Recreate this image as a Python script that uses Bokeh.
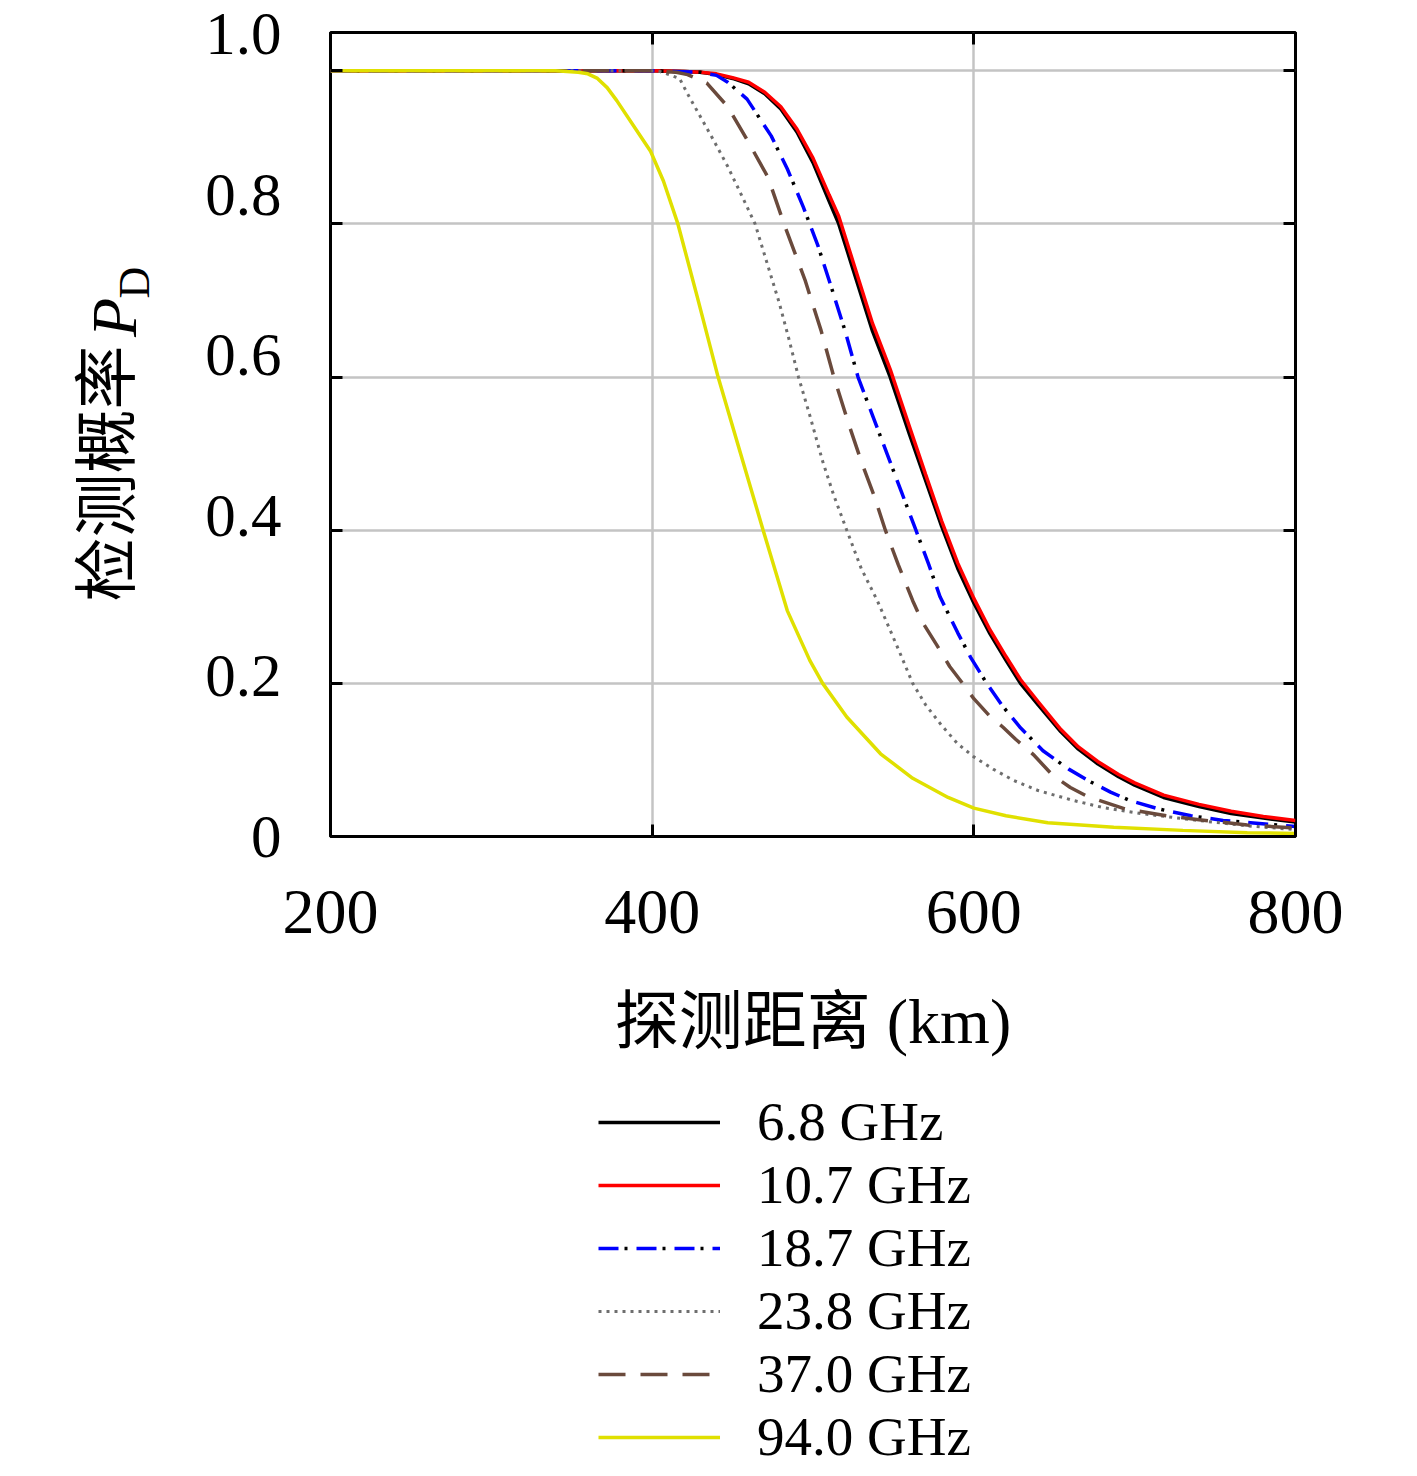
from bokeh.plotting import figure
from bokeh.layouts import row, column
from bokeh.models import (Range1d, LinearAxis, SingleIntervalTicker, Label, Legend,
                          LegendItem, CustomJSTickFormatter)
from bokeh.embed import file_html
from bokeh.resources import INLINE
import math

# ---------------- data ----------------
x_68 = [200, 300, 400, 420, 430, 440, 450, 460, 470, 480, 490, 500, 510, 516, 525, 537,
        548, 560, 570, 580, 590, 600, 610, 620, 629, 640, 654, 665, 677, 690, 700, 718,
        740, 760, 780, 800]
y_68 = [1.0, 1.0, 1.0, 0.999, 0.998, 0.995, 0.99, 0.983, 0.97, 0.95, 0.92, 0.88, 0.83,
        0.80, 0.74, 0.66, 0.60, 0.525, 0.465, 0.405, 0.35, 0.305, 0.265, 0.23, 0.20,
        0.172, 0.137, 0.114, 0.095, 0.078, 0.067, 0.051, 0.039, 0.030, 0.024, 0.019]

x_107 = x_68
y_107 = [1.0, 1.0, 1.0, 0.999, 0.998, 0.996, 0.991, 0.985, 0.972, 0.953, 0.924, 0.886,
         0.838, 0.81, 0.75, 0.67, 0.61, 0.535, 0.473, 0.412, 0.357, 0.311, 0.27, 0.235,
         0.205, 0.176, 0.14, 0.117, 0.098, 0.081, 0.07, 0.054, 0.042, 0.033, 0.026, 0.021]

x_187 = [200, 300, 400, 430, 440, 447, 459, 474, 484, 494, 503, 511, 520, 528, 537, 546,
         555, 564, 572, 579, 590, 598, 608, 618, 629, 643, 659, 672, 685, 697, 715, 735,
         755, 772, 800]
y_187 = [1.0, 1.0, 1.0, 0.998, 0.994, 0.985, 0.963, 0.915, 0.872, 0.822, 0.772, 0.72,
         0.66, 0.60, 0.55, 0.50, 0.45, 0.40, 0.355, 0.313, 0.266, 0.234, 0.20, 0.17,
         0.142, 0.112, 0.088, 0.072, 0.058, 0.047, 0.036, 0.027, 0.021, 0.018, 0.013]

x_238 = [200, 300, 400, 405, 417, 422, 430, 438, 447, 455, 464, 472, 479, 485, 491, 498,
         506, 513, 521, 530, 540, 546, 554, 562, 570, 580, 590, 600, 612, 625, 640, 662,
         680, 704, 739, 770, 800]
y_238 = [1.0, 1.0, 1.0, 0.999, 0.99, 0.97, 0.94, 0.91, 0.875, 0.84, 0.80, 0.745, 0.697,
         0.65, 0.60, 0.55, 0.49, 0.445, 0.40, 0.35, 0.308, 0.279, 0.24, 0.20, 0.172, 0.145,
         0.121, 0.104, 0.088, 0.073, 0.06, 0.047, 0.038, 0.03, 0.021, 0.014, 0.009]

x_370 = [200, 300, 400, 415, 422, 434, 447, 459, 472, 482, 495, 505, 513, 522, 530, 538,
         545, 553, 562, 568, 577, 585, 593, 600, 610, 618, 626, 637, 649, 660, 671, 694,
         720, 740, 770, 800]
y_370 = [1.0, 1.0, 1.0, 0.998, 0.995, 0.984, 0.953, 0.91, 0.861, 0.80, 0.727, 0.661, 0.60,
         0.54, 0.49, 0.445, 0.40, 0.355, 0.308, 0.28, 0.25, 0.222, 0.20, 0.18, 0.157, 0.143,
         0.127, 0.107, 0.08, 0.064, 0.052, 0.036, 0.027, 0.022, 0.015, 0.011]

x_940 = [200, 300, 340, 354, 360, 366, 372, 378, 391, 399, 407, 416, 428, 441, 455, 469,
         484, 498, 506, 521, 542, 562, 584, 600, 620, 646, 687, 730, 770, 800]
y_940 = [1.0, 1.0, 1.0, 0.998, 0.996, 0.99, 0.978, 0.961, 0.92, 0.895, 0.856, 0.80, 0.705,
         0.60, 0.50, 0.40, 0.295, 0.23, 0.20, 0.156, 0.108, 0.076, 0.051, 0.037, 0.027,
         0.018, 0.012, 0.008, 0.005, 0.004]

labels = ["6.8 GHz", "10.7 GHz", "18.7 GHz", "23.8 GHz", "37.0 GHz", "94.0 GHz"]

# ---------------- styles ----------------
SERIF = "Liberation Serif"
CJK = "Noto Sans CJK SC"
FS = "64px"

styles = [
    [dict(line_color="black", line_width=3.5)],
    [dict(line_color="#ff0000", line_width=3.5)],
    [dict(line_color="#0000ff", line_width=3.5, line_dash="20 18"),
     dict(line_color="black", line_width=3.5, line_dash="3 35", line_dash_offset=-26)],
    [dict(line_color="#6e6e6e", line_width=3, line_dash="3 5")],
    [dict(line_color="#6a4a3c", line_width=3.5, line_dash="27 15")],
    [dict(line_color="#e0e000", line_width=3.5)],
]
series = [(x_68, y_68), (x_107, y_107), (x_187, y_187), (x_238, y_238),
          (x_370, y_370), (x_940, y_940)]

TOTAL_W = 1409
TOTAL_H = 1468
LEFT_W = 185
MAIN_H = 1090
FRAME_TOP = 32
FRAME_BOTTOM = 836

# ---------------- main figure ----------------
p = figure(width=TOTAL_W - LEFT_W, height=MAIN_H,
           x_range=Range1d(200, 800), y_range=Range1d(0, 1.05),
           output_backend="svg", toolbar_location=None,
           min_border_left=330 - LEFT_W, min_border_right=114, min_border_top=FRAME_TOP,
           min_border_bottom=MAIN_H - FRAME_BOTTOM)
p.extra_y_ranges = {"lab": Range1d(0, 1.002)}
p.outline_line_color = "black"
p.outline_line_width = 3
p.outline_line_alpha = 1.0

blank = CustomJSTickFormatter(code="return '';")

def tick_style(ax):
    ax.major_tick_in = 12
    ax.major_tick_out = 0
    ax.major_tick_line_width = 3
    ax.major_tick_line_color = "black"
    ax.minor_tick_line_color = None
    ax.axis_line_color = None

xa = p.xaxis[0]
xa.ticker = SingleIntervalTicker(interval=200, num_minor_ticks=0)
tick_style(xa)
xa.major_label_text_font = SERIF
xa.major_label_text_font_size = FS
xa.major_label_text_color = "black"
xa.major_label_standoff = 54
xa.axis_label = "探测距离 (km)"
xa.axis_label_text_font = SERIF + ", " + CJK
xa.axis_label_text_font_size = FS
xa.axis_label_text_font_style = "normal"
xa.axis_label_text_color = "black"
xa.axis_label_standoff = 50

ta = LinearAxis(ticker=SingleIntervalTicker(interval=200, num_minor_ticks=0), formatter=blank)
tick_style(ta)
ta.major_label_standoff = 0
p.add_layout(ta, "above")

ya = p.yaxis[0]
ya.ticker = SingleIntervalTicker(interval=0.2, num_minor_ticks=0)
ya.formatter = blank
tick_style(ya)
ya.major_label_standoff = 0

la = LinearAxis(y_range_name="lab", ticker=SingleIntervalTicker(interval=0.2, num_minor_ticks=0),
                formatter=CustomJSTickFormatter(code="return tick < 1e-9 ? '0' : tick.toFixed(1);"))
la.major_tick_in = 0
la.major_tick_out = 0
la.major_tick_line_color = None
la.minor_tick_line_color = None
la.axis_line_color = None
la.major_label_text_font = SERIF
la.major_label_text_font_size = "61px"
la.major_label_text_color = "black"
la.major_label_standoff = 49
p.add_layout(la, "left")

ra = LinearAxis(ticker=SingleIntervalTicker(interval=0.2, num_minor_ticks=0), formatter=blank)
tick_style(ra)
ra.major_label_standoff = 0
p.add_layout(ra, "right")

for g in (p.xgrid[0], p.ygrid[0]):
    g.grid_line_color = "#c4c4c4"
    g.grid_line_width = 2.5

for (xs, ys), sty in zip(series, styles):
    for s in sty:
        p.line(xs, ys, **s)

# ---------------- y-axis title (left strip, frame aligned with main frame) ----------------
t = figure(width=LEFT_W, height=MAIN_H, x_range=Range1d(0, LEFT_W),
           y_range=Range1d(FRAME_BOTTOM, FRAME_TOP), output_backend="svg",
           toolbar_location=None, x_axis_type=None, y_axis_type=None,
           min_border_left=0, min_border_right=0, min_border_top=FRAME_TOP,
           min_border_bottom=MAIN_H - FRAME_BOTTOM, title=None)
t.outline_line_color = None
t.grid.visible = False
t.add_layout(Label(x=100, y=473, text="检测概率", angle=math.pi / 2,
                   text_align="center", text_baseline="middle",
                   text_font=CJK, text_font_size=FS, text_color="black"))
t.add_layout(Label(x=114, y=317, text="P", angle=math.pi / 2,
                   text_align="center", text_baseline="middle",
                   text_font=SERIF, text_font_style="italic", text_font_size=FS,
                   text_color="black"))
t.add_layout(Label(x=134, y=282, text="D", angle=math.pi / 2,
                   text_align="center", text_baseline="middle",
                   text_font=SERIF, text_font_size="44px", text_color="black"))

# ---------------- legend strip ----------------
LEG_H = TOTAL_H - MAIN_H
lg = figure(width=TOTAL_W, height=LEG_H, x_range=Range1d(0, 1), y_range=Range1d(0, 1),
            output_backend="svg", toolbar_location=None,
            x_axis_type=None, y_axis_type=None, min_border=0, title=None)
lg.outline_line_color = None
lg.grid.visible = False

items = []
for lab, (xs, ys), sty in zip(labels, series, styles):
    # same data as the plot; it lies outside this strip's ranges, only the legend glyph shows
    rs = [lg.line(xs, ys, **s) for s in sty]
    items.append(LegendItem(label=lab, renderers=rs))

leg = Legend(items=items, location=(598, 0))
leg.glyph_width = 122
leg.glyph_height = 58
leg.label_height = 58
leg.label_standoff = 37
leg.spacing = 0
leg.padding = 0
leg.margin = 0
leg.border_line_color = None
leg.background_fill_alpha = 0
leg.label_text_font = SERIF
leg.label_text_font_size = "55px"
leg.label_text_color = "black"
leg.label_text_baseline = "middle"
lg.add_layout(leg)

layout = column(row(t, p), lg)
open("out.html", "w").write(file_html(layout, INLINE))
